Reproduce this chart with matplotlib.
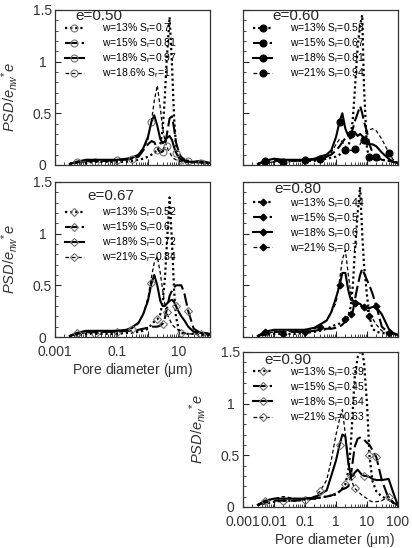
import matplotlib as mpl
mpl.use('Agg')
import matplotlib.pyplot as plt
import matplotlib.lines as mlines
from matplotlib.ticker import FixedLocator, FixedFormatter, MultipleLocator, LogLocator, NullFormatter

plt.rcParams['font.family'] = ['Liberation Sans', 'DejaVu Sans']
plt.rcParams['mathtext.fontset'] = 'custom'
plt.rcParams['mathtext.rm'] = 'Liberation Sans'
plt.rcParams['mathtext.it'] = 'Liberation Sans:italic'

# pore diameter (um), shared by all curves
diam = [0.003, 0.005, 0.01, 0.02, 0.05, 0.1, 0.2, 0.3, 0.5, 0.7,
        1.0, 1.3, 1.6, 2.0, 2.5, 3.0, 3.5, 4.0, 5.0, 6.0,
        7.0, 8.0, 10, 12, 15, 20, 30, 50, 70, 100]

# e = 0.50
w_050 = ['13%', '15%', '18%', '18.6%']
sr_050 = ['0.7', '0.81', '0.97', '1']
psd_050_a = [0.01, 0.02, 0.02, 0.03, 0.03, 0.03, 0.03, 0.04, 0.05, 0.06, 0.08, 0.1, 0.12, 0.14, 0.2,
             0.35, 0.65, 1.0, 1.43, 0.95, 0.45, 0.2, 0.08, 0.05, 0.04, 0.03, 0.03, 0.02, 0.02, 0.02]
psd_050_b = [0.01, 0.03, 0.04, 0.04, 0.04, 0.05, 0.05, 0.06, 0.08, 0.14, 0.2, 0.23, 0.22, 0.16, 0.12,
             0.13, 0.18, 0.28, 0.45, 0.47, 0.35, 0.22, 0.12, 0.07, 0.05, 0.04, 0.03, 0.03, 0.03, 0.02]
psd_050_c = [0.01, 0.03, 0.05, 0.05, 0.05, 0.05, 0.06, 0.07, 0.1, 0.16, 0.27, 0.42, 0.48, 0.38, 0.25,
             0.21, 0.23, 0.26, 0.28, 0.24, 0.17, 0.12, 0.07, 0.05, 0.04, 0.03, 0.03, 0.04, 0.03, 0.02]
psd_050_d = [0.01, 0.02, 0.03, 0.03, 0.04, 0.04, 0.05, 0.06, 0.1, 0.15, 0.25, 0.42, 0.62, 0.77, 0.55,
             0.35, 0.24, 0.18, 0.12, 0.08, 0.06, 0.05, 0.04, 0.03, 0.03, 0.02, 0.02, 0.02, 0.02, 0.02]

# e = 0.60
w_060 = ['13%', '15%', '18%', '21%']
sr_060 = ['0.58', '0.67', '0.81', '0.94']
psd_060_a = [0.01, 0.02, 0.03, 0.03, 0.04, 0.04, 0.04, 0.05, 0.06, 0.07, 0.08, 0.1, 0.12, 0.14, 0.18,
             0.28, 0.45, 0.7, 1.15, 1.35, 1.45, 0.75, 0.15, 0.08, 0.06, 0.05, 0.05, 0.04, 0.03, 0.02]
psd_060_b = [0.01, 0.03, 0.04, 0.04, 0.04, 0.05, 0.05, 0.06, 0.08, 0.1, 0.14, 0.18, 0.22, 0.26, 0.28,
             0.3, 0.35, 0.42, 0.5, 0.57, 0.5, 0.42, 0.32, 0.2, 0.12, 0.08, 0.05, 0.04, 0.03, 0.02]
psd_060_c = [0.01, 0.04, 0.06, 0.05, 0.05, 0.05, 0.06, 0.08, 0.1, 0.14, 0.27, 0.42, 0.5, 0.35, 0.28,
             0.27, 0.3, 0.32, 0.28, 0.3, 0.28, 0.24, 0.2, 0.2, 0.2, 0.18, 0.12, 0.06, 0.03, 0.02]
psd_060_d = [0.01, 0.02, 0.03, 0.04, 0.04, 0.04, 0.05, 0.06, 0.08, 0.12, 0.2, 0.25, 0.22, 0.18, 0.15,
             0.14, 0.14, 0.15, 0.17, 0.2, 0.24, 0.28, 0.32, 0.34, 0.35, 0.33, 0.25, 0.12, 0.05, 0.02]

# e = 0.67
w_067 = ['13%', '15%', '18%', '21%']
sr_067 = ['0.52', '0.6', '0.72', '0.84']
psd_067_a = [0.01, 0.02, 0.03, 0.03, 0.03, 0.03, 0.04, 0.04, 0.05, 0.06, 0.08, 0.12, 0.15, 0.17, 0.22,
             0.35, 0.55, 0.85, 1.35, 0.9, 0.45, 0.2, 0.06, 0.04, 0.03, 0.03, 0.03, 0.02, 0.02, 0.02]
psd_067_b = [0.01, 0.03, 0.05, 0.05, 0.05, 0.05, 0.06, 0.06, 0.07, 0.08, 0.09, 0.1, 0.1, 0.1, 0.11,
             0.13, 0.18, 0.26, 0.4, 0.45, 0.48, 0.5, 0.5, 0.5, 0.42, 0.25, 0.08, 0.04, 0.03, 0.02]
psd_067_c = [0.01, 0.04, 0.06, 0.06, 0.06, 0.06, 0.07, 0.09, 0.14, 0.22, 0.35, 0.52, 0.6, 0.5, 0.35,
             0.3, 0.3, 0.32, 0.35, 0.36, 0.34, 0.3, 0.24, 0.2, 0.16, 0.1, 0.05, 0.04, 0.04, 0.03]
psd_067_d = [0.01, 0.03, 0.04, 0.04, 0.05, 0.05, 0.06, 0.08, 0.13, 0.22, 0.38, 0.58, 0.72, 0.78, 0.62,
             0.45, 0.32, 0.24, 0.17, 0.12, 0.1, 0.08, 0.07, 0.05, 0.04, 0.03, 0.03, 0.03, 0.03, 0.02]

# e = 0.80
w_080 = ['13%', '15%', '18%', '21%']
sr_080 = ['0.44', '0.5', '0.6', '0.7']
psd_080_a = [0.01, 0.02, 0.03, 0.03, 0.03, 0.04, 0.05, 0.06, 0.08, 0.1, 0.12, 0.13, 0.15, 0.17, 0.2,
             0.3, 0.5, 0.8, 1.2, 1.45, 1.0, 0.7, 0.4, 0.2, 0.08, 0.05, 0.04, 0.03, 0.03, 0.02]
psd_080_b = [0.01, 0.03, 0.05, 0.05, 0.05, 0.05, 0.06, 0.07, 0.08, 0.08, 0.09, 0.1, 0.12, 0.15, 0.2,
             0.22, 0.25, 0.35, 0.5, 0.6, 0.66, 0.62, 0.55, 0.5, 0.42, 0.3, 0.1, 0.04, 0.03, 0.02]
psd_080_c = [0.01, 0.05, 0.07, 0.07, 0.07, 0.07, 0.09, 0.12, 0.16, 0.24, 0.38, 0.5, 0.62, 0.62, 0.45,
             0.36, 0.35, 0.34, 0.33, 0.32, 0.3, 0.29, 0.28, 0.28, 0.29, 0.29, 0.22, 0.08, 0.04, 0.02]
psd_080_d = [0.01, 0.03, 0.05, 0.05, 0.06, 0.06, 0.08, 0.1, 0.16, 0.24, 0.33, 0.55, 0.75, 0.84, 0.6,
             0.42, 0.36, 0.33, 0.31, 0.3, 0.29, 0.28, 0.26, 0.22, 0.18, 0.12, 0.06, 0.04, 0.03, 0.02]

# e = 0.90
w_090 = ['13%', '15%', '18%', '21%']
sr_090 = ['0.39', '0.45', '0.54', '0.63']
psd_090_a = [0.02, 0.03, 0.05, 0.06, 0.06, 0.07, 0.08, 0.09, 0.1, 0.11, 0.12, 0.15, 0.18, 0.22, 0.35,
             0.6, 0.95, 1.25, 1.45, 1.5, 1.5, 1.4, 1.0, 0.5, 0.25, 0.15, 0.1, 0.07, 0.04, 0.02]
psd_090_b = [0.02, 0.04, 0.06, 0.06, 0.06, 0.07, 0.08, 0.09, 0.1, 0.11, 0.13, 0.15, 0.17, 0.18, 0.2,
             0.3, 0.45, 0.58, 0.66, 0.67, 0.66, 0.65, 0.62, 0.6, 0.55, 0.48, 0.26, 0.08, 0.04, 0.02]
psd_090_c = [0.02, 0.06, 0.08, 0.08, 0.08, 0.08, 0.09, 0.12, 0.16, 0.3, 0.45, 0.6, 0.7, 0.68, 0.42,
             0.3, 0.3, 0.33, 0.36, 0.33, 0.31, 0.3, 0.3, 0.29, 0.27, 0.26, 0.26, 0.27, 0.14, 0.01]
psd_090_d = [0.02, 0.05, 0.08, 0.1, 0.08, 0.08, 0.1, 0.15, 0.26, 0.45, 0.7, 0.85, 0.94, 0.7, 0.45,
             0.3, 0.22, 0.18, 0.15, 0.13, 0.11, 0.1, 0.08, 0.06, 0.05, 0.05, 0.06, 0.1, 0.05, 0.02]

decades = [0.001, 0.01, 0.1, 1, 10, 100]
xlab_short = ['0.001', '', '0.1', '', '10', '']
xlab_full = ['0.001', '0.01', '0.1', '1', '10', '100']

ylab = r'$PSD/e_{nw}{}^{*}e$'
xlab = r'Pore diameter ($\mathregular{\mu}$m)'

line_styles = [(0, (1, 1.3)), (0, (6, 2)), '-', (0, (3, 2))]
line_widths = [1.6, 1.5, 1.5, 0.9]
mark_every = [(3, 10), (5, 10), (1, 10), (7, 10)]

# panel: (e, water, sr, curves, rect, marker, filled, title xy, legend top, x labels, y labels, ylabel y)
panels = [
    ('0.50', w_050, sr_050, [psd_050_a, psd_050_b, psd_050_c, psd_050_d],
     [0.1335, 0.699, 0.376, 0.283], 'o', False, (0.13, 0.962), 0.925, None, True, 0.44),
    ('0.60', w_060, sr_060, [psd_060_a, psd_060_b, psd_060_c, psd_060_d],
     [0.59, 0.699, 0.376, 0.283], 'o', True, (0.19, 0.962), 0.925, None, False, None),
    ('0.67', w_067, sr_067, [psd_067_a, psd_067_b, psd_067_c, psd_067_d],
     [0.1335, 0.385, 0.376, 0.283], 'D', False, (0.21, 0.91), 0.85, xlab_short, True, 0.5),
    ('0.80', w_080, sr_080, [psd_080_a, psd_080_b, psd_080_c, psd_080_d],
     [0.59, 0.385, 0.376, 0.283], 'D', True, (0.2, 0.955), 0.91, None, False, None),
    ('0.90', w_090, sr_090, [psd_090_a, psd_090_b, psd_090_c, psd_090_d],
     [0.59, 0.075, 0.376, 0.283], 'D', False, (0.14, 0.948), 0.915, xlab_full, True, 0.5),
]

fig = plt.figure(figsize=(4.12, 5.48), dpi=100)

for (e, water, sr, curves, rect, mk, filled, title_xy, leg_top, xticklabs, show_y, ylab_y) in panels:
    ax = fig.add_axes(rect)
    if mk == 'o':
        ms = 5
    else:
        ms = 4 if not filled else 3.5
    mfc = 'k' if filled else 'none'
    mec = 'k' if filled else '0.45'

    handles = []
    for i, ys in enumerate(curves):
        ax.plot(diam, ys, color='k', ls=line_styles[i], lw=line_widths[i],
                marker=mk, ms=ms, mfc=mfc, mec=mec, mew=0.8,
                markevery=mark_every[i])
        label = 'w=' + water[i] + r' S$_{\rm r}$=' + sr[i]
        handles.append(mlines.Line2D([], [], color='k', ls=line_styles[i], lw=line_widths[i],
                                     marker=mk, ms=ms, mfc=mfc, mec=mec, mew=0.8, label=label))

    ax.set_xscale('log')
    ax.set_xlim(0.001, 100)
    ax.set_ylim(0, 1.5)
    ax.xaxis.set_major_locator(FixedLocator(decades))
    ax.xaxis.set_minor_locator(LogLocator(base=10, subs=range(2, 10), numticks=20))
    ax.xaxis.set_minor_formatter(NullFormatter())
    ax.yaxis.set_major_locator(FixedLocator([0, 0.5, 1, 1.5]))
    ax.yaxis.set_minor_locator(MultipleLocator(0.1))
    ax.tick_params(which='both', direction='in', top=False, right=False, colors='0.15',
                   labelsize=10, labelcolor='0.2')
    ax.tick_params(which='major', length=4.5, width=0.8)
    ax.tick_params(which='minor', length=2.5, width=0.6)
    ax.tick_params(axis='y', pad=9)
    ax.tick_params(axis='x', pad=6)
    for sp in ax.spines.values():
        sp.set_color('0.2')
        sp.set_linewidth(0.9)

    if xticklabs is not None:
        ax.xaxis.set_major_formatter(FixedFormatter(xticklabs))
        ax.set_xlabel(xlab, fontsize=10, color='0.2')
        ax.xaxis.set_label_coords(0.5 if xticklabs is xlab_short else 0.59, -0.155)
    else:
        ax.xaxis.set_major_formatter(NullFormatter())

    if show_y:
        ax.yaxis.set_major_formatter(FixedFormatter(['0', '0.5', '1', '1.5']))
        for t in ax.get_yticklabels():
            t.set_horizontalalignment('center')
        ax.set_ylabel(ylab, fontsize=10.5, color='0.2')
        ax.yaxis.set_label_coords(-0.225, ylab_y)
    else:
        ax.yaxis.set_major_formatter(NullFormatter())

    ax.text(title_xy[0], title_xy[1], 'e=' + e, transform=ax.transAxes,
            fontsize=11, color='0.15', ha='left', va='center')
    ax.legend(handles=handles, loc='upper left', bbox_to_anchor=(0.065, leg_top),
              frameon=False, fontsize=7.5, handlelength=1.8, handletextpad=1.7,
              labelspacing=0.12, borderpad=0, borderaxespad=0)

plt.savefig('out.png', dpi=100)
